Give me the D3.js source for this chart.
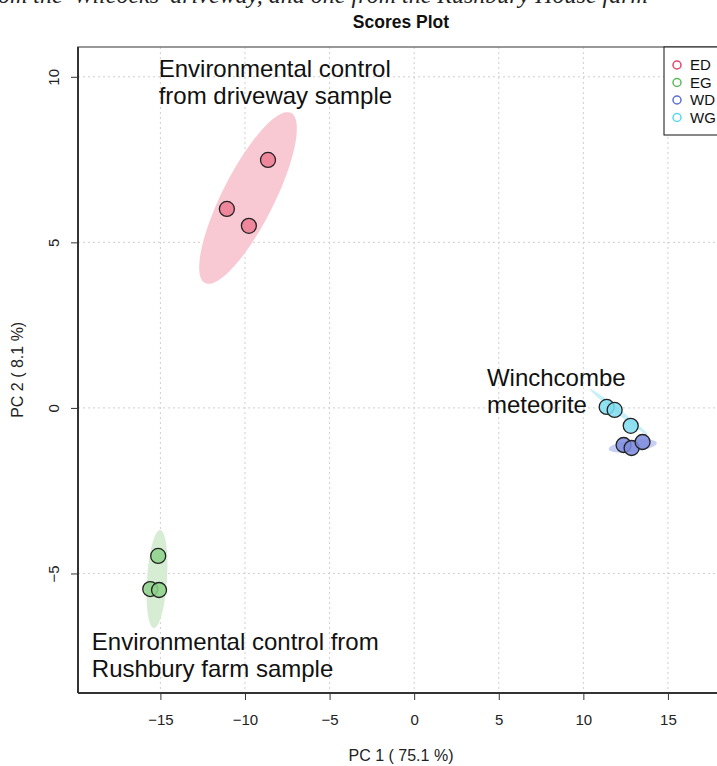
<!DOCTYPE html>
<html>
<head>
<meta charset="utf-8">
<script src="https://cdnjs.cloudflare.com/ajax/libs/d3/7.8.5/d3.min.js"></script>
<style>
  body { margin: 0; background: #fff; }
  svg { display: block; }
</style>
</head>
<body>
<div class="canvas"></div>
<script>
// groups and their colours
const groups = ['ED', 'EG', 'WD', 'WG'];
const lineColors = ['#e8436a', '#5cb85c', '#5b6fd8', '#5bd6f0'];
const pointColors = ['#ec7a92', '#8dd18a', '#7d8bde', '#7fddf0'];
const ellipseColors = ['#f8c9d3', '#d6edd4', '#c8cff2', '#c9f0f8'];

// PCA scores
const pc1 = {
  ED: [-8.64, -11.07, -9.77],
  EG: [-15.13, -15.6, -15.08],
  WD: [12.38, 12.85, 13.5],
  WG: [11.38, 11.85, 12.8]
};
const pc2 = {
  ED: [7.49, 6.01, 5.50],
  EG: [-4.47, -5.47, -5.50],
  WD: [-1.12, -1.21, -1.03],
  WG: [0.03, -0.06, -0.54]
};

// confidence ellipses: centre and two half-axis vectors, in score units
const ellCentre = { ED: [-9.82, 6.34], EG: [-15.2, -5.17], WD: [12.92, -1.15], WG: [12.1, -0.12] };
const ellAxisA = { ED: [2.54, 2.57], EG: [0.18, 1.48], WD: [1.42, 0.09], WG: [1.71, -0.69] };
const ellAxisB = { ED: [1.37, -0.35], EG: [0.59, 0.0], WD: [0.0, -0.18], WG: [-0.09, -0.06] };

const xTicks = [-15, -10, -5, 0, 5, 10, 15];
const yTicks = [-5, 0, 5, 10];

const notes = [
  { lines: ['Environmental control', 'from driveway sample'], at: [-15.1, 10.0] },
  { lines: ['Winchcombe', 'meteorite'], at: [4.3, 0.66] },
  { lines: ['Environmental control from', 'Rushbury farm sample'], at: [-19.05, -7.3] }
];

const W = 717, H = 766;
const mLeft = 78, mTop = 47, mBottom = 693;
const sansFont = '"Liberation Sans Narrow", "Liberation Sans", Arial, sans-serif';

const svg = d3.select('.canvas').append('svg')
  .attr('width', W)
  .attr('height', H);

const x = d3.scaleLinear().domain([-19.87, 17.9]).range([mLeft, W]);
const y = d3.scaleLinear().domain([-8.61, 10.9]).range([mBottom, mTop]);

// cropped caption line from the page above the figure
svg.append('text')
  .attr('x', -2)
  .attr('y', 3)
  .style('font-family', '"Liberation Serif", serif')
  .style('font-style', 'italic')
  .style('font-size', '24px')
  .attr('fill', '#222')
  .text("om the 'Wilcocks' driveway, and one from the Rushbury House farm");

svg.append('text')
  .attr('x', 401)
  .attr('y', 28)
  .attr('text-anchor', 'middle')
  .style('font-family', sansFont)
  .style('font-weight', 'bold')
  .style('font-size', '17.5px')
  .attr('fill', '#111')
  .text('Scores Plot');

// grid
const grid = svg.append('g')
  .attr('stroke', '#cfcfcf')
  .attr('stroke-dasharray', '2,3');
grid.selectAll('.gx').data(xTicks).join('line')
  .attr('class', 'gx')
  .attr('x1', d => x(d)).attr('x2', d => x(d))
  .attr('y1', mTop).attr('y2', mBottom);
grid.selectAll('.gy').data(yTicks).join('line')
  .attr('class', 'gy')
  .attr('x1', mLeft).attr('x2', W)
  .attr('y1', d => y(d)).attr('y2', d => y(d));

// ellipses
const tSteps = d3.range(0, 2 * Math.PI + 0.001, Math.PI / 60);
const ellLine = d3.line().curve(d3.curveLinearClosed);
svg.append('g').selectAll('path').data(groups).join('path')
  .attr('d', g => ellLine(tSteps.map(t => {
    const c = ellCentre[g], a = ellAxisA[g], b = ellAxisB[g];
    return [
      x(c[0] + Math.cos(t) * a[0] + Math.sin(t) * b[0]),
      y(c[1] + Math.cos(t) * a[1] + Math.sin(t) * b[1])
    ];
  })))
  .attr('fill', (g, i) => ellipseColors[i])
  .attr('stroke', 'none');

// points
groups.forEach((g, i) => {
  svg.append('g').selectAll('circle').data(pc1[g]).join('circle')
    .attr('cx', d => x(d))
    .attr('cy', (d, j) => y(pc2[g][j]))
    .attr('r', 7.5)
    .attr('fill', pointColors[i])
    .attr('fill-opacity', 0.85)
    .attr('stroke', '#222')
    .attr('stroke-width', 1.3);
});

// plot frame
svg.append('path')
  .attr('d', `M${mLeft},${mBottom}V${mTop}H${W + 2}`)
  .attr('fill', 'none')
  .attr('stroke', '#777')
  .attr('stroke-width', 1.5);

// axes
const xAxis = svg.append('g')
  .attr('transform', `translate(0,${mBottom})`)
  .call(d3.axisBottom(x).tickValues(xTicks).tickSize(7).tickPadding(14).tickFormat(d3.format('d')));
const yAxis = svg.append('g')
  .attr('transform', `translate(${mLeft},0)`)
  .call(d3.axisLeft(y).tickValues(yTicks).tickSize(7).tickFormat(d3.format('d')));
[xAxis, yAxis].forEach(ax => {
  ax.select('.domain').attr('stroke', '#333').attr('stroke-width', 2);
  ax.selectAll('.tick line').attr('stroke', '#333');
  ax.selectAll('text')
    .style('font-family', sansFont)
    .style('font-size', '15px')
    .attr('fill', '#222');
});
xAxis.select('.domain').attr('d', `M${mLeft},0H${W}`);
yAxis.select('.domain').attr('d', `M0,${mBottom}V${mTop}`);
yAxis.selectAll('text')
  .attr('text-anchor', 'middle')
  .attr('x', 0)
  .attr('dy', null)
  .attr('transform', 'translate(-19,0) rotate(-90)');

svg.append('text')
  .attr('x', 401)
  .attr('y', 761)
  .attr('text-anchor', 'middle')
  .style('font-family', sansFont)
  .style('font-size', '16px')
  .attr('fill', '#222')
  .text('PC 1 ( 75.1 %)');

svg.append('text')
  .attr('transform', `translate(23,${y(1.15)}) rotate(-90)`)
  .attr('text-anchor', 'middle')
  .style('font-family', sansFont)
  .style('font-size', '16px')
  .attr('fill', '#222')
  .text('PC 2 ( 8.1 %)');

// annotations
notes.forEach(n => {
  const t = svg.append('text')
    .style('font-family', '"Liberation Sans", Arial, sans-serif')
    .style('font-size', '24px')
    .attr('fill', '#111');
  n.lines.forEach((l, k) => {
    t.append('tspan')
      .attr('x', x(n.at[0]))
      .attr('y', y(n.at[1]) + k * 27)
      .text(l);
  });
});

// legend
const lg = svg.append('g').attr('transform', `translate(664,${mTop})`);
lg.append('rect')
  .attr('width', 60).attr('height', 88)
  .attr('fill', '#fff').attr('stroke', '#111').attr('stroke-width', 1);
lg.selectAll('circle').data(groups).join('circle')
  .attr('cx', 13)
  .attr('cy', (d, i) => 18 + i * 17.5)
  .attr('r', 4)
  .attr('fill', 'none')
  .attr('stroke', (d, i) => lineColors[i])
  .attr('stroke-width', 1.5);
lg.selectAll('text').data(groups).join('text')
  .attr('x', 26)
  .attr('y', (d, i) => 18 + i * 17.5)
  .attr('dy', '0.35em')
  .style('font-family', '"Liberation Sans", Arial, sans-serif')
  .style('font-size', '15px')
  .attr('fill', '#111')
  .text(d => d);
</script>
</body>
</html>
